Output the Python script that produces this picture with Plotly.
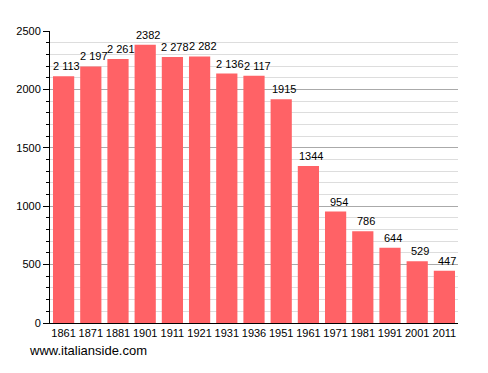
import plotly.graph_objects as go

years = ["1861", "1871", "1881", "1901", "1911", "1921", "1931", "1936", "1951",
         "1961", "1971", "1981", "1991", "2001", "2011"]
population = [2113, 2197, 2261, 2382, 2278, 2282, 2136, 2117, 1915,
              1344, 954, 786, 644, 529, 447]
labels = ["2 113", "2 197", "2 261", "2382", "2 278", "2 282", "2 136", "2 117", "1915",
          "1344", "954", "786", "644", "529", "447"]

FONT = "Liberation Sans"
W, H = 488, 373
OFF = 8  # page body margin
L, T = 50 - OFF, 31 - OFF
PW, PH = 408, 292
R, B = W - L - PW, H - T - PH

fig = go.Figure()
fig.add_trace(go.Bar(
    x=years, y=population,
    marker=dict(color="#ff6266", line=dict(width=0)),
    hoverinfo="x+y",
))

# category index positions for the value labels
annotations = [dict(
    x=i, y=val, text=lab, xref="x", yref="y", showarrow=False,
    xanchor="center", yanchor="bottom", xshift=3, yshift=2,
    font=dict(size=11, color="#000000", family=FONT),
) for i, (val, lab) in enumerate(zip(population, labels))]

annotations.append(dict(
    text="www.italianside.com", xref="paper", yref="paper",
    x=(27 - 50) / PW, y=-(350 - 323) / PH,
    showarrow=False, xanchor="left", yanchor="middle",
    font=dict(size=13, color="#000000", family=FONT),
))

fig.update_layout(
    width=W, height=H,
    margin=dict(l=L, r=R, t=T, b=B, autoexpand=False),
    plot_bgcolor="white", paper_bgcolor="white",
    bargap=0.22,
    showlegend=False,
    font=dict(family=FONT, size=11, color="#000000"),
    xaxis=dict(
        type="category", categoryorder="array", categoryarray=years,
        range=[-0.5, len(years) - 0.5],
        showgrid=False, showline=True, linecolor="#000000",
        linewidth=1, ticks="", tickfont=dict(size=11), tickangle=0,
        automargin=False, fixedrange=True,
    ),
    yaxis=dict(
        range=[0, 2500], tickvals=[0, 500, 1000, 1500, 2000, 2500],
        showgrid=True, gridcolor="#aaaaaa", gridwidth=1,
        showline=True, linecolor="#000000", linewidth=1,
        ticks="outside", ticklen=6, tickcolor="#000000",
        minor=dict(dtick=100, showgrid=True, gridcolor="#dddddd",
                   ticks="outside", ticklen=3, tickcolor="#000000"),
        zeroline=False, tickfont=dict(size=11), automargin=False,
    ),
    annotations=annotations,
)
fig.write_html("out.html")
